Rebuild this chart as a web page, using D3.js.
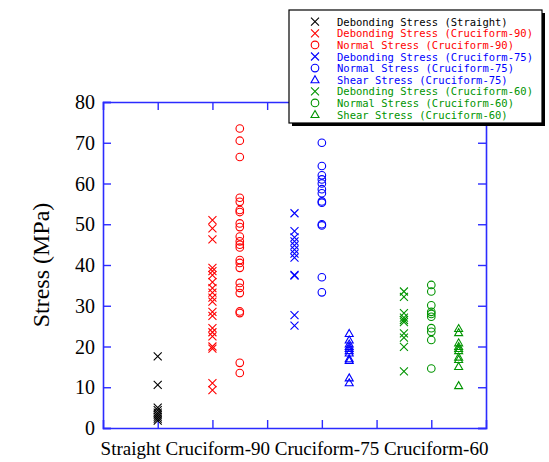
<!DOCTYPE html>
<html>
<head>
<meta charset="utf-8">
<script src="https://cdn.jsdelivr.net/npm/d3@7"></script>
<style>
  html, body { margin: 0; padding: 0; background: #fff; }
  svg { display: block; }
</style>
</head>
<body>
<svg id="chart" width="549" height="462"></svg>
<script>
// Group labels along the bottom
const categories = ["Straight", "Cruciform-90", "Cruciform-75", "Cruciform-60"];

// Series names (legend), x positions and measured stresses (MPa)
const seriesNames = [
  "Debonding Stress (Straight)",
  "Debonding Stress (Cruciform-90)",
  "Normal Stress (Cruciform-90)",
  "Debonding Stress (Cruciform-75)",
  "Normal Stress (Cruciform-75)",
  "Shear Stress (Cruciform-75)",
  "Debonding Stress (Cruciform-60)",
  "Normal Stress (Cruciform-60)",
  "Shear Stress (Cruciform-60)"
];
const seriesX = [1, 2, 2.5, 3.5, 4, 4.5, 5.5, 6, 6.5];
const seriesSymbols = ["cross", "cross", "circle", "cross", "circle", "triangle", "cross", "circle", "triangle"];
const seriesColors = ["#000000", "#ff0000", "#ff0000", "#0000ff", "#0000ff", "#0000ff", "#009400", "#009400", "#009400"];

const straightDebond = [17.6, 10.6, 5.0, 4.4, 3.8, 3.3, 2.8, 2.3, 1.8];
const c90Debond = [51, 49, 46.3, 39.3, 38.5, 37.5, 35.8, 34.3, 33.2, 32, 31, 28.5, 27.5, 24.5, 23.5, 22.5, 20, 19.5, 11, 9.3];
const c90Normal = [73.5, 70.5, 66.5, 56.5, 55.5, 53.5, 53, 50.2, 49.3, 47, 45.8, 45, 44.3, 41.2, 40.5, 39.3, 35.6, 34.4, 33.1, 28.6, 28.2, 16, 13.5];
const c75Debond = [52.7, 48.3, 46.8, 45.8, 44.8, 43.8, 42.8, 41.8, 37.6, 37.4, 27.7, 25.1];
const c75Normal = [70, 64.3, 62, 61, 60, 58.6, 57.6, 55.6, 55.3, 50, 49.7, 37, 33.3];
const c75Shear = [23.2, 21.6, 20.6, 20, 19.5, 19, 18.4, 17, 16.6, 12.3, 11.1];
const c60Debond = [33.5, 32.2, 28.2, 27.1, 26.5, 26, 23.2, 22.2, 19.9, 13.9];
const c60Normal = [35.1, 33.5, 30.1, 28.5, 28, 27.3, 24.5, 23.6, 21.6, 14.6];
const c60Shear = [24.4, 23.4, 20.9, 20, 19.5, 19, 17.4, 16.8, 15.1, 10.4];

const seriesValues = [straightDebond, c90Debond, c90Normal, c75Debond, c75Normal, c75Shear, c60Debond, c60Normal, c60Shear];

const yTicks = [0, 10, 20, 30, 40, 50, 60, 70, 80];
const xTicks = [1, 2, 3, 4, 5, 6];

const svg = d3.select("#chart");
const margin = { left: 103, right: 63, top: 102, bottom: 34 };
const W = 549, H = 462;
const plotW = W - margin.left - margin.right;
const plotH = H - margin.top - margin.bottom;

const x = d3.scaleLinear().domain([0, 7]).range([margin.left, margin.left + plotW]);
const y = d3.scaleLinear().domain([0, 80]).range([margin.top + plotH, margin.top]);

const frameColor = "#2b2bff";
const serif = "'Liberation Serif', 'Times New Roman', serif";
const mono = "'DejaVu Sans Mono', 'Liberation Mono', monospace";

// Frame: inward ticks on all four sides
const tickLen = 8;
const gAxes = svg.append("g");
gAxes.append("g").attr("transform", `translate(${margin.left},0)`)
  .call(d3.axisRight(y).tickValues(yTicks).tickSize(tickLen).tickFormat(""));
gAxes.append("g").attr("transform", `translate(${margin.left + plotW},0)`)
  .call(d3.axisLeft(y).tickValues(yTicks).tickSize(tickLen).tickFormat(""));
gAxes.append("g").attr("transform", `translate(0,${margin.top + plotH})`)
  .call(d3.axisTop(x).tickValues(xTicks).tickSize(tickLen).tickFormat(""));
gAxes.append("g").attr("transform", `translate(0,${margin.top})`)
  .call(d3.axisBottom(x).tickValues(xTicks).tickSize(tickLen).tickFormat(""));
gAxes.selectAll(".domain").attr("stroke", frameColor).attr("stroke-width", 1.6);
gAxes.selectAll(".tick line").attr("stroke", frameColor).attr("stroke-width", 1.4);

// Y tick labels
svg.append("g").selectAll("text").data(yTicks).join("text")
  .attr("x", margin.left - 8)
  .attr("y", d => y(d) + 7)
  .attr("text-anchor", "end")
  .attr("font-family", serif)
  .attr("font-size", 20)
  .text(d => d);

// Y axis title
svg.append("text")
  .attr("transform", `translate(49,${margin.top + plotH / 2}) rotate(-90)`)
  .attr("text-anchor", "middle")
  .attr("font-family", serif)
  .attr("font-size", 24)
  .text("Stress (MPa)");

// Category line under the plot
svg.append("text")
  .attr("x", margin.left + plotW / 2)
  .attr("y", 455)
  .attr("text-anchor", "middle")
  .attr("font-family", serif)
  .attr("font-size", 19)
  .text(categories.join(" "));

// Marker drawing
function drawMarker(g, kind, color, cx, cy) {
  if (kind === "cross") {
    const s = 4;
    g.append("path")
      .attr("d", `M${cx - s},${cy - s}L${cx + s},${cy + s}M${cx - s},${cy + s}L${cx + s},${cy - s}`)
      .attr("stroke", color).attr("stroke-width", 1.1).attr("fill", "none");
  } else if (kind === "circle") {
    g.append("circle").attr("cx", cx).attr("cy", cy).attr("r", 3.8)
      .attr("stroke", color).attr("stroke-width", 1.1).attr("fill", "none");
  } else {
    const s = 4;
    g.append("path")
      .attr("d", `M${cx},${cy - s}L${cx + s},${cy + 3}L${cx - s},${cy + 3}Z`)
      .attr("stroke", color).attr("stroke-width", 1.1).attr("fill", "none");
  }
}

const gPts = svg.append("g");
seriesValues.forEach((vals, i) => {
  vals.forEach(v => drawMarker(gPts, seriesSymbols[i], seriesColors[i], x(seriesX[i]), y(v)));
});

// Legend box with drop shadow
const lg = svg.append("g");
const lx = 289, ly = 10, lw = 253, lh = 113;
lg.append("rect").attr("x", lx + 3).attr("y", ly + 3).attr("width", lw).attr("height", lh).attr("fill", "#000");
lg.append("rect").attr("x", lx).attr("y", ly).attr("width", lw).attr("height", lh)
  .attr("fill", "#fff").attr("stroke", "#000").attr("stroke-width", 1.2);
seriesNames.forEach((name, i) => {
  const ry = 21.7 + i * 11.6;
  drawMarker(lg, seriesSymbols[i], seriesColors[i], 315, ry);
  lg.append("text")
    .attr("x", 337).attr("y", ry + 4)
    .attr("font-family", mono).attr("font-size", 10.5)
    .attr("fill", seriesColors[i])
    .text(name);
});
</script>
</body>
</html>
